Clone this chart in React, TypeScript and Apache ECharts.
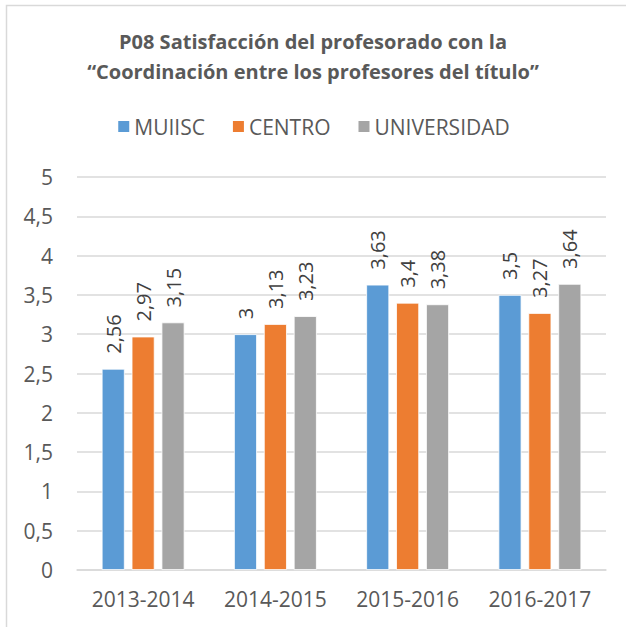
import React, { useEffect, useRef } from "react";
import * as echarts from "echarts";

const categories = ["2013-2014", "2014-2015", "2015-2016", "2016-2017"];
const muiisc = [2.56, 3, 3.63, 3.5];
const centro = [2.97, 3.13, 3.4, 3.27];
const universidad = [3.15, 3.23, 3.38, 3.64];
const seriesNames = ["MUIISC", "CENTRO", "UNIVERSIDAD"];
const colors = ["#5B9BD5", "#ED7D31", "#A5A5A5"];

const FONT = "Open Sans";
const fmt = (v: number) => String(v).replace(".", ",");

export default function App() {
  const ref = useRef<HTMLDivElement>(null);
  useEffect(() => {
    const chart = echarts.init(ref.current!, null, { renderer: "svg" });
    const data = [muiisc, centro, universidad];
    chart.setOption({
      animation: false,
      backgroundColor: "#fff",
      textStyle: { fontFamily: FONT },
      title: {
        text: "P08 Satisfacción del profesorado con la\n“Coordinación entre los profesores del título”",
        left: "center",
        top: 21,
        textStyle: {
          fontFamily: FONT,
          fontWeight: "bold",
          fontSize: 20,
          color: "#595959",
          lineHeight: 30,
        },
      },
      legend: {
        top: 111,
        left: "center",
        itemWidth: 13,
        itemHeight: 13,
        itemGap: 26,
        icon: "rect",
        textStyle: { fontFamily: FONT, fontSize: 21, color: "#595959", padding: [0, 0, 0, -1] },
        data: seriesNames,
      },
      graphic: [
        {
          type: "rect",
          shape: { x: 6.5, y: 5.5, width: 700, height: 700 },
          style: { fill: "none", stroke: "#D9D9D9", lineWidth: 1.5 },
          silent: true,
        },
      ],
      grid: { left: 77, right: 20, top: 177, bottom: 57, containLabel: false },
      xAxis: {
        type: "category",
        data: categories,
        axisTick: { show: false },
        axisLine: { lineStyle: { color: "#D9D9D9", width: 1.5 } },
        axisLabel: {
          fontFamily: FONT,
          fontSize: 21,
          color: "#595959",
          margin: 18,
          interval: 0,
          hideOverlap: false,
        },
      },
      yAxis: {
        type: "value",
        min: 0,
        max: 5,
        interval: 0.5,
        axisLine: { show: false },
        axisTick: { show: false },
        splitLine: { lineStyle: { color: "#D9D9D9", width: 1.5 } },
        axisLabel: {
          fontFamily: FONT,
          fontSize: 21,
          color: "#595959",
          margin: 24,
          formatter: (v: number) => fmt(v),
        },
      },
      series: seriesNames.map((name, i) => ({
        name,
        type: "bar",
        data: data[i],
        barWidth: 23,
        barGap: "30%",
        itemStyle: { color: colors[i], borderColor: "#fff", borderWidth: 0.8 },
        label: {
          show: true,
          position: "top",
          rotate: 90,
          align: "left",
          verticalAlign: "middle",
          distance: 15,
          fontFamily: FONT,
          fontSize: 20,
          color: "#404040",
          formatter: (p: any) => fmt(p.value),
        },
      })),
    });
    return () => chart.dispose();
  }, []);
  return (
    <div
      ref={ref}
      style={{ position: "fixed", left: 0, top: 0, width: 626, height: 627 }}
    />
  );
}
